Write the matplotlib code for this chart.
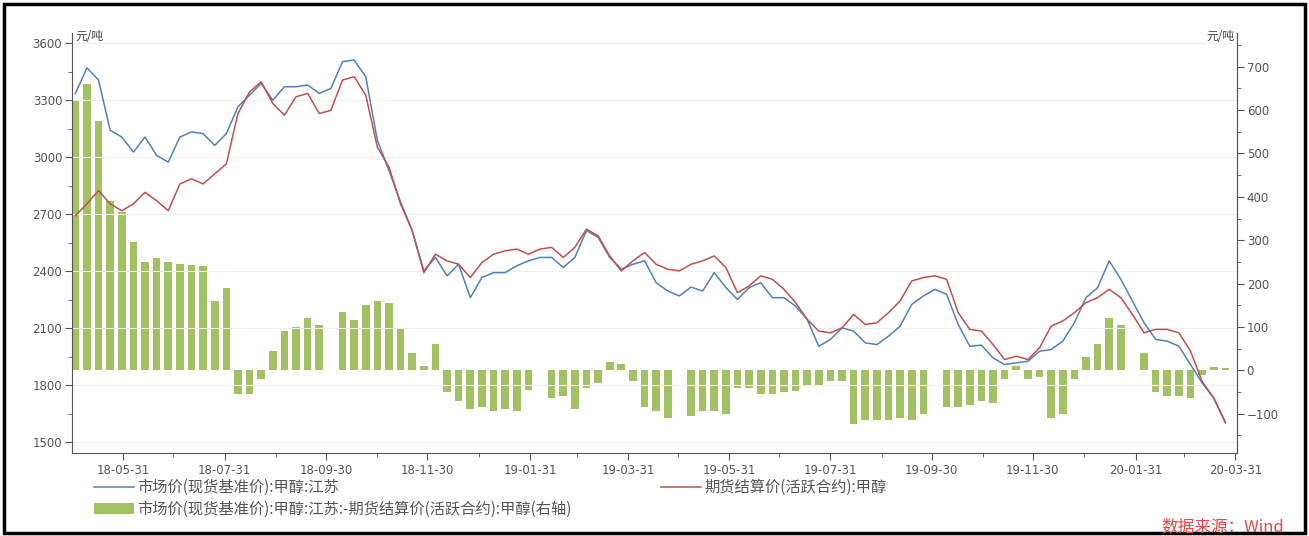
import pandas as pd
import matplotlib
matplotlib.use('Agg')
import matplotlib.pyplot as plt
from matplotlib.lines import Line2D
from matplotlib.patches import Patch, Rectangle

plt.rcParams['font.family'] = ['Noto Sans CJK SC', 'DejaVu Sans']

# weekly readings (Wednesdays), 2018-05-02 .. 2020-03-25
spot = [3335, 3470, 3406, 3142, 3106, 3027, 3106, 3009, 2974, 3106,
        3133, 3124, 3062, 3124, 3265, 3327, 3388, 3300, 3371, 3371,
        3380, 3336, 3362, 3503, 3512,
        3424, 3089, 2930, 2763, 2613, 2401, 2472, 2375, 2436, 2260,
        2366, 2392, 2392, 2428, 2454, 2472, 2472, 2419, 2472, 2613,
        2578, 2472, 2410, 2436, 2454, 2339,
        2295, 2269, 2316, 2295, 2392, 2313, 2251, 2313, 2339, 2260,
        2260, 2216, 2146, 2004, 2040, 2101, 2084, 2022, 2013, 2057,
        2110, 2225, 2269, 2304, 2278,
        2119, 2004, 2010, 1943, 1908, 1917, 1925, 1978, 1987, 2031,
        2128, 2260, 2313, 2454, 2357, 2242, 2128, 2040, 2031, 2004,
        1908, 1811, 1731, 1600]

futures = [2692, 2754, 2824, 2754, 2718, 2754, 2815, 2771, 2718, 2859,
           2886, 2859, 2912, 2965, 3230, 3344, 3397, 3283, 3221, 3318,
           3336, 3230, 3247, 3406, 3424,
           3327, 3053, 2948, 2754, 2613, 2392, 2489, 2454, 2436, 2366,
           2445, 2489, 2507, 2516, 2489, 2516, 2525, 2472, 2525, 2621,
           2586, 2480, 2401, 2454, 2498, 2436,
           2410, 2401, 2436, 2454, 2480, 2419, 2286, 2322, 2375, 2357,
           2304, 2234, 2146, 2084, 2075, 2101, 2172, 2119, 2128, 2181,
           2243, 2348, 2366, 2375, 2357,
           2181, 2093, 2084, 2013, 1934, 1952, 1934, 1996, 2110, 2137,
           2181, 2234, 2260, 2304, 2260, 2172, 2075, 2093, 2093, 2075,
           1978, 1819, 1731, 1605]

# basis (right axis), 0 where the week was a holiday
basis = [620, 660, 575, 390, 365, 295, 250, 258, 250, 246,
         242, 240, 160, 190, -55, -55, -20, 45, 90, 100,
         120, 105, 0, 135, 115,
         150, 160, 155, 95, 40, 10, 60, -50, -70, -90,
         -85, -95, -90, -95, -45, 0, -65, -60, -90, -40,
         -30, 20, 15, -25, -85, -95,
         -110, 0, -105, -95, -95, -100, -40, -40, -55, -55,
         -50, -47, -35, -35, -25, -25, -125, -115, -115, -115,
         -110, -115, -100, 0, -85,
         -85, -80, -70, -75, -20, 10, -20, -15, -110, -100,
         -20, 30, 60, 120, 105, 0, 40, -50, -60, -60,
         -65, -10, 8, 5]

dates = pd.date_range('2018-05-02', periods=len(spot), freq='7D')

major_ticks = ['2018-05-31', '2018-07-31', '2018-09-30', '2018-11-30',
               '2019-01-31', '2019-03-31', '2019-05-31', '2019-07-31',
               '2019-09-30', '2019-11-30', '2020-01-31', '2020-03-31']
minor_ticks = ['2018-06-30', '2018-08-31', '2018-10-31', '2018-12-31',
               '2019-02-28', '2019-04-30', '2019-06-30', '2019-08-31',
               '2019-10-31', '2019-12-31', '2020-02-29']

name_spot = '市场价(现货基准价):甲醇:江苏'
name_fut = '期货结算价(活跃合约):甲醇'
name_basis = '市场价(现货基准价):甲醇:江苏:-期货结算价(活跃合约):甲醇(右轴)'

c_blue = '#4f81bd'
c_red = '#c0504d'
c_green = '#a2c162'
c_axis = '#555555'
c_text = '#555555'

W, H = 1309, 536
fig = plt.figure(figsize=(W / 100, H / 100), dpi=100)
ax = fig.add_axes([72 / W, 1 - 453 / H, (1237 - 72) / W, (453 - 33) / H])
ax2 = ax.twinx()

ax2.bar(dates, basis, width=4.6, color=c_green, linewidth=0)
ax.plot(dates, spot, color=c_blue, lw=1.1)
ax.plot(dates, futures, color=c_red, lw=1.1)
ax.set_zorder(ax2.get_zorder() + 1)
ax.patch.set_visible(False)

ax.set_xlim(pd.Timestamp('2018-04-30'), pd.Timestamp('2020-04-01'))
ax.set_ylim(1442, 3654)
ax2.set_ylim(-191, 778)

ax.set_yticks(range(1500, 3601, 300))
ax.set_yticks(range(1650, 3601, 300), minor=True)
ax2.set_yticks(range(-100, 701, 100))
ax2.set_yticks(range(-150, 751, 100), minor=True)
ax.set_xticks(pd.to_datetime(major_ticks))
ax.set_xticklabels([t[2:] for t in major_ticks])
ax.set_xticks(pd.to_datetime(minor_ticks), minor=True)

ax.yaxis.grid(True, color='#efefef', lw=0.8)
ax.set_axisbelow(True)

for a in (ax, ax2):
    a.spines['top'].set_visible(False)
    for s in ('left', 'right', 'bottom'):
        a.spines[s].set_color(c_axis)
    a.tick_params(which='both', direction='out', colors=c_axis,
                  labelsize=8.5, labelcolor=c_text, labelfontfamily='DejaVu Sans')
    a.tick_params(which='major', length=5, pad=2)
    a.tick_params(which='minor', length=3)
ax.tick_params(axis='x', pad=3)
ax2.spines['left'].set_visible(False)
ax2.spines['bottom'].set_visible(False)

fig.text(75 / W, 1 - 36 / H, '元/吨', fontsize=8.5, color='#444444', va='center')
fig.text(1235 / W, 1 - 36 / H, '元/吨', fontsize=8.5, color='#444444',
         va='center', ha='right')

leg1 = fig.legend(handles=[Line2D([], [], color=c_blue, lw=1.1),
                           Patch(facecolor=c_green)],
                  labels=[name_spot, name_basis],
                  loc='upper left', bbox_to_anchor=(94 / W, 1 - 479 / H),
                  frameon=False, fontsize=11, handlelength=2.6,
                  labelspacing=0.3, borderpad=0, handletextpad=0.25,
                  borderaxespad=0)
for t in leg1.get_texts():
    t.set_color(c_text)
leg2 = fig.legend(handles=[Line2D([], [], color=c_red, lw=1.1)],
                  labels=[name_fut],
                  loc='upper left', bbox_to_anchor=(661 / W, 1 - 479 / H),
                  frameon=False, fontsize=11, handlelength=2.6,
                  borderpad=0, handletextpad=0.25, borderaxespad=0)
for t in leg2.get_texts():
    t.set_color(c_text)

fig.text(1284 / W, 1 - 527 / H, '数据来源：Wind', fontsize=12, color='#e04848',
         style='italic', ha='right', va='center')

fig.patches.append(Rectangle((4 / W, 3 / H), 1301 / W, 529 / H,
                             transform=fig.transFigure, fill=False,
                             lw=2.5, ec='black'))

fig.savefig('out.png', dpi=100)
